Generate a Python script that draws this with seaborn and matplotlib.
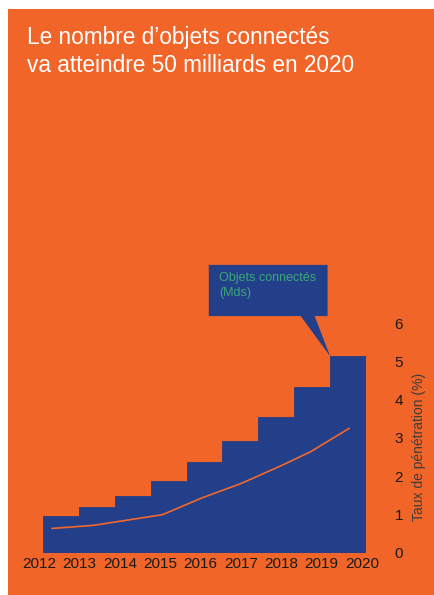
import numpy as np
import matplotlib
matplotlib.use("Agg")
import matplotlib.pyplot as plt
from matplotlib.patches import Rectangle, Polygon
import seaborn as sns

# --- data -------------------------------------------------------------
years = [2012, 2013, 2014, 2015, 2016, 2017, 2018, 2019, 2020]
objects_bn = [0.95, 1.19, 1.47, 1.88, 2.36, 2.93, 3.56, 4.32, 5.14]   # connected objects (x10 Mds)
rate_pos = [-0.25, 0.90, 2.83, 3.93, 5.03, 6.13, 6.96, 8.03]         # position along the time axis
rate_pct = [0.63, 0.71, 0.99, 1.43, 1.81, 2.27, 2.64, 3.25]          # penetration rate (%)
y_ticks = [0, 1, 2, 3, 4, 5, 6]

title = "Le nombre d\u2019objets connect\u00e9s\nva atteindre 50 milliards en 2020"
callout_text = "Objets connect\u00e9s\n(Mds)"
ylabel = "Taux de p\u00e9n\u00e9tration (%)"

ORANGE = "#f16529"
BLUE = "#243f8a"
LINE = "#f2692d"
GREEN = "#3aa876"

sns.set_theme(style="white")
plt.rcParams["font.family"] = ["Liberation Sans", "DejaVu Sans"]

W, H = 434, 595
fig = plt.figure(figsize=(W / 100, H / 100), dpi=100)
fig.patch.set_facecolor("white")

# orange panel behind everything
fig.patches.append(Rectangle((8 / W, 0), 1 - 8 / W, (H - 9) / H,
                             transform=fig.transFigure, facecolor=ORANGE,
                             edgecolor="none", zorder=-10))

ax = fig.add_axes([39 / W, 42.5 / H, 327 / W, 294.1 / H])
ax.patch.set_visible(False)

sns.barplot(x=years, y=objects_bn, width=1.0, color=BLUE, saturation=1,
            edgecolor=BLUE, linewidth=0.6, ax=ax)
sns.lineplot(x=rate_pos, y=rate_pct, color=LINE, linewidth=1.2, ax=ax)

ax.set_xlim(-0.5, 8.5)
ax.set_ylim(0, 7.7)

# year labels
ax.set_xticks(np.linspace(-0.61, 8.39, len(years)), [str(y) for y in years])
ax.tick_params(axis="x", length=0, pad=3, labelsize=11, labelcolor="#1a1a1a")

# right-hand scale
ax.yaxis.tick_right()
ax.set_yticks(y_ticks, [str(t) for t in y_ticks])
ax.tick_params(axis="y", length=0, pad=20.5, labelsize=11, labelcolor="#1a1a1a")
ax.yaxis.set_label_position("right")
ax.set_ylabel(ylabel, fontsize=10, color="#3d3d3d")
ax.yaxis.set_label_coords(1.162, 0.36)
ax.yaxis.label.set_verticalalignment("center")
ax.set_xlabel("")

for s in ax.spines.values():
    s.set_visible(False)

# callout box pointing at the last bar
tip_x, tip_y = len(years) - 1 - 0.5, objects_bn[-1]
box_l, box_r, box_b, box_t = 4.12, 7.43, 6.19, 7.53
callout = Polygon([(box_l, box_b), (box_l, box_t), (box_r, box_t), (box_r, box_b),
                   (7.07, box_b), (tip_x, tip_y), (6.68, box_b)],
                  closed=True, facecolor=BLUE, edgecolor="none", clip_on=False, zorder=3)
ax.add_patch(callout)
ax.text(4.40, 7.34, callout_text, color=GREEN, fontsize=9, va="top", ha="left",
        linespacing=1.36, zorder=4, clip_on=False)

# title
fig.text(27 / W, 1 - 26 / H, title, color="white", fontsize=16.3, va="top",
         ha="left", linespacing=1.26)

fig.savefig("out.png", dpi=100, facecolor=fig.get_facecolor())
